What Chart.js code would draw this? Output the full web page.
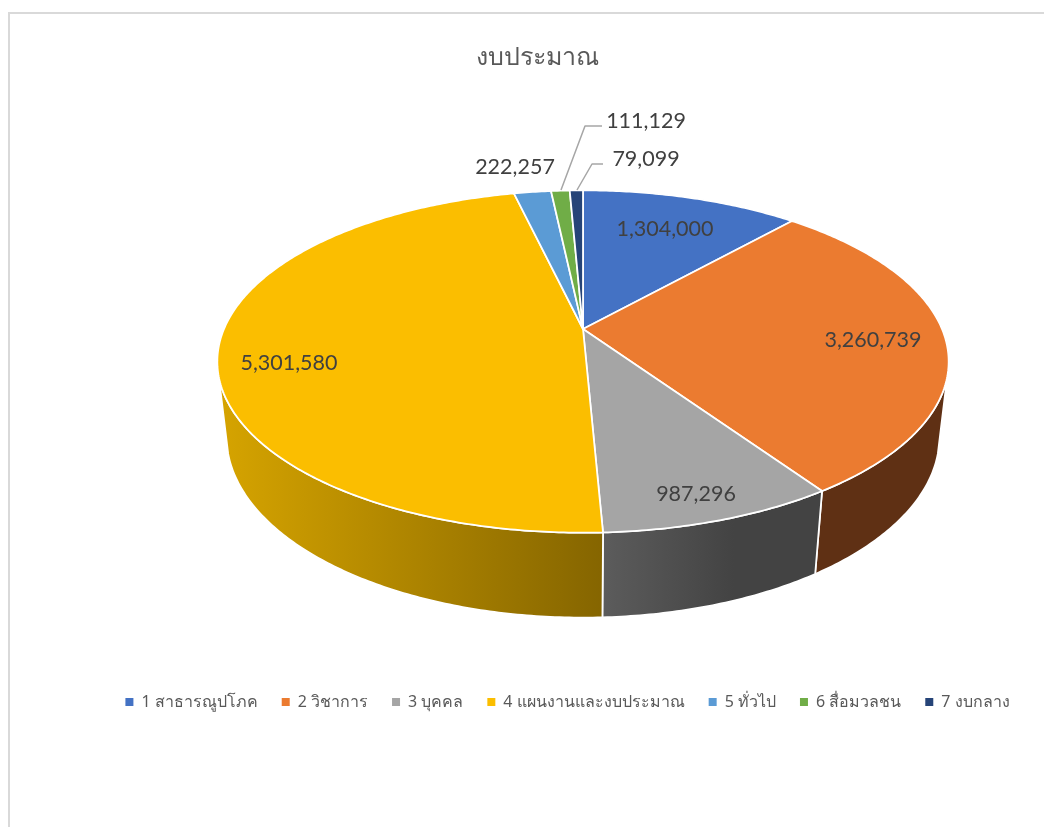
<!DOCTYPE html>
<html lang="th">
<head>
  <meta charset="UTF-8">
  <title>งบประมาณ</title>
  <script src="https://cdn.jsdelivr.net/npm/chart.js"></script>
  <style>
    html, body { margin: 0; padding: 0; background: #fff; overflow: hidden; }
    #frame { position: absolute; left: 8px; top: 12px; right: 0; bottom: 0; border-left: 2px solid #d9d9d9; border-top: 2px solid #d9d9d9; }
    #wrap { position: absolute; left: 0; top: 0; width: 1044px; height: 827px; }
  </style>
</head>
<body>
  <div id="frame"></div>
  <div id="wrap"><canvas id="budgetChart" width="1044" height="827"></canvas></div>

  <script>
    const categories = ['1 สาธารณูปโภค', '2 วิชาการ', '3 บุคคล', '4 แผนงานและงบประมาณ', '5 ทั่วไป', '6 สื่อมวลชน', '7 งบกลาง'];
    const budget = [1304000, 3260739, 987296, 5301580, 222257, 111129, 79099];
    const sliceColors = ['#4472C4', '#EB7B30', '#A5A5A5', '#FBBE00', '#5B9BD5', '#70AD47', '#264478'];

    // perspective of the tilted pie
    const view = { cx: 583, cy: 329, ax: 359, by: 165, k: 0.19, depth: 76, fade: 0.025 };
    const wallFrom = 106, wallTo = 254;   // degrees clockwise from the top
    const labelSpots = [[665, 229], [873, 340], [696, 494], [289, 363], [515, 167], [646, 121], [646, 159]];
    const leaders = { 5: [[602, 126], [585, 126], [561, 190]], 6: [[603, 164], [592, 164], [577, 190]] };
    const labelFont = '21.5px Lato, "Open Sans", sans-serif';

    function project(theta, r, low) {
      const x = r * Math.sin(theta), y = -r * Math.cos(theta);
      const w = 1 - view.k * y + (low ? view.fade : 0);
      return [view.cx + view.ax * x / w, view.cy + (view.by * y + (low ? view.depth : 0)) / w];
    }

    function rimPath(ctx, a, b, low, first) {
      const n = Math.max(2, Math.ceil(Math.abs(b - a) * 90));
      for (let i = 0; i <= n; i++) {
        const p = project(a + (b - a) * i / n, 1, low);
        if (i === 0 && first) ctx.moveTo(p[0], p[1]); else ctx.lineTo(p[0], p[1]);
      }
    }

    function wallFill(ctx, i, x0, x1) {
      if (i === 3) {
        const g = ctx.createLinearGradient(x0, 0, x1, 0);
        g.addColorStop(0, '#D6A400');
        g.addColorStop(1, '#856500');
        return g;
      }
      if (i === 2) {
        const g = ctx.createLinearGradient(x0, 0, x1, 0);
        g.addColorStop(0, '#5C5C5C');
        g.addColorStop(0.6, '#434343');
        g.addColorStop(1, '#434343');
        return g;
      }
      return '#5F3014';
    }

    const pie3d = {
      id: 'pie3d',
      afterLayout(chart) {
        // the legend sits right of the title centre in the original
        chart.legend.left += 30;
        chart.legend.right += 30;
      },
      beforeDatasetDraw(chart, args) {
        const ctx = chart.ctx;
        const arcs = args.meta.data;
        const from = wallFrom * Math.PI / 180, to = wallTo * Math.PI / 180;
        ctx.save();
        ctx.lineJoin = 'round';

        // side walls first, the top faces cover what is behind
        arcs.forEach((arc, i) => {
          const a = Math.max(arc.startAngle + Math.PI / 2, from);
          const b = Math.min(arc.endAngle + Math.PI / 2, to);
          if (b <= a) return;
          const xs = [project(a, 1, false)[0], project(b, 1, false)[0], project(a, 1, true)[0], project(b, 1, true)[0]];
          const minX = Math.min(...xs), maxX = Math.max(...xs);
          ctx.beginPath();
          rimPath(ctx, a, b, false, true);
          rimPath(ctx, b, a, true, false);
          ctx.closePath();
          ctx.fillStyle = wallFill(ctx, i, minX, maxX);
          ctx.fill();
          ctx.strokeStyle = '#fff';
          ctx.lineWidth = 1.75;
          ctx.stroke();
        });

        arcs.forEach((arc, i) => {
          ctx.beginPath();
          ctx.moveTo(view.cx, view.cy);
          rimPath(ctx, arc.startAngle + Math.PI / 2, arc.endAngle + Math.PI / 2, false, false);
          ctx.closePath();
          ctx.fillStyle = sliceColors[i];
          ctx.fill();
          ctx.strokeStyle = '#fff';
          ctx.lineWidth = 1.75;
          ctx.stroke();
        });

        // leader lines and values
        ctx.strokeStyle = '#A6A6A6';
        ctx.lineWidth = 1.5;
        Object.values(leaders).forEach(pts => {
          ctx.beginPath();
          pts.forEach((p, j) => j ? ctx.lineTo(p[0], p[1]) : ctx.moveTo(p[0], p[1]));
          ctx.stroke();
        });
        ctx.font = labelFont;
        ctx.fillStyle = '#404040';
        ctx.textAlign = 'center';
        ctx.textBaseline = 'middle';
        budget.forEach((v, i) => ctx.fillText(v.toLocaleString('en-US'), labelSpots[i][0], labelSpots[i][1]));
        ctx.restore();
        return false;
      }
    };

    new Chart(document.getElementById('budgetChart'), {
      type: 'pie',
      data: {
        labels: categories,
        datasets: [{ data: budget, backgroundColor: sliceColors, borderWidth: 0 }]
      },
      options: {
        responsive: false,
        animation: false,
        layout: { padding: { left: 31, bottom: 107 } },
        plugins: {
          title: {
            display: true,
            text: 'งบประมาณ',
            color: '#595959',
            font: { size: 25, weight: 'normal', family: '"Noto Sans", "DejaVu Sans", sans-serif' },
            padding: { top: 43, bottom: 20 }
          },
          legend: {
            position: 'bottom',
            labels: {
              color: '#595959',
              usePointStyle: true,
              pointStyle: 'rect',
              boxWidth: 8,
              boxHeight: 8,
              padding: 24,
              font: { size: 16, family: '"Noto Sans", "DejaVu Sans", sans-serif' }
            }
          },
          tooltip: { enabled: false }
        }
      },
      plugins: [pie3d]
    });
  </script>
</body>
</html>
